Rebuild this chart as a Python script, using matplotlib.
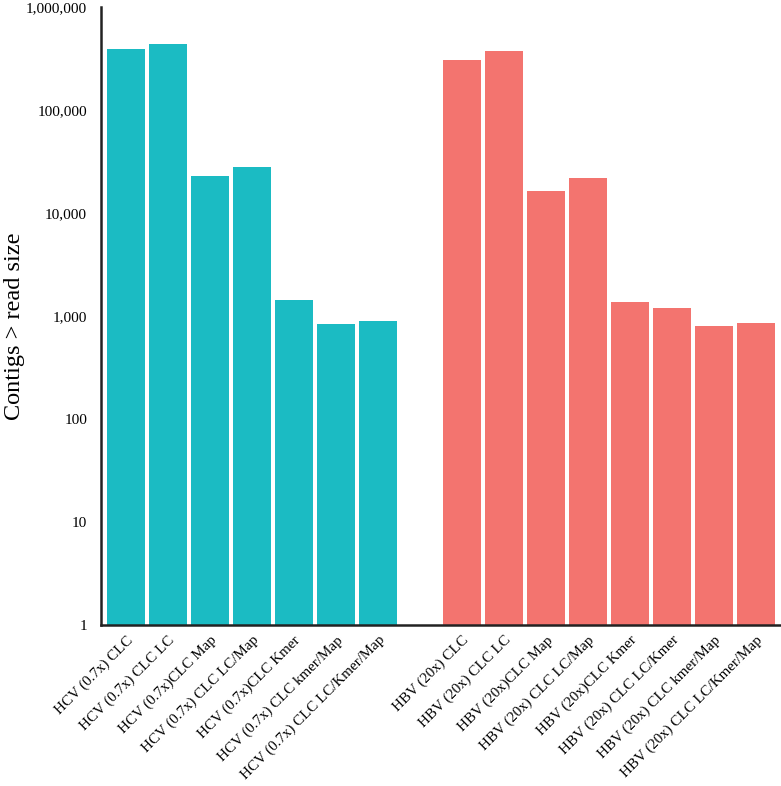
import matplotlib.pyplot as plt
import numpy as np
from matplotlib.ticker import FixedLocator, FuncFormatter

plt.rcParams['font.family'] = ['Liberation Serif', 'DejaVu Serif']

hcv_labels = ["HCV (0.7x) CLC", "HCV (0.7x) CLC LC", "HCV (0.7x)CLC Map",
              "HCV (0.7x) CLC LC/Map", "HCV (0.7x)CLC Kmer",
              "HCV (0.7x) CLC kmer/Map", "HCV (0.7x) CLC LC/Kmer/Map"]
hcv_values = [391000, 437000, 22900, 28000, 1430, 836, 893]

hbv_labels = ["HBV (20x) CLC", "HBV (20x) CLC LC", "HBV (20x)CLC Map",
              "HBV (20x) CLC LC/Map", "HBV (20x)CLC Kmer",
              "HBV (20x) CLC LC/Kmer", "HBV (20x) CLC kmer/Map",
              "HBV (20x) CLC LC/Kmer/Map"]
hbv_values = [306000, 374000, 16400, 21900, 1368, 1196, 800, 855]

hcv_color = '#1BBBC3'
hbv_color = '#F3746F'

fig = plt.figure(figsize=(7.81, 7.86), dpi=100)
ax = fig.add_axes([101 / 781, 1 - 625 / 786, 680 / 781, 618 / 786])

hcv_x = np.arange(len(hcv_labels))
hbv_x = np.arange(len(hbv_labels)) + len(hcv_labels) + 1

ax.bar(hcv_x, hcv_values, width=0.9, color=hcv_color)
ax.bar(hbv_x, hbv_values, width=0.9, color=hbv_color)

ax.set_yscale('log')
ax.set_ylim(1, 1e6)
ax.set_xlim(-0.593, 15.6)
ax.yaxis.set_major_locator(FixedLocator([1, 10, 100, 1000, 1e4, 1e5, 1e6]))
ax.yaxis.set_minor_locator(FixedLocator([]))
ax.yaxis.set_major_formatter(FuncFormatter(lambda v, p: f"{int(round(v)):,}"))
ax.tick_params(axis='y', length=0, pad=10, labelsize=11)

ax.set_xticks(list(hcv_x) + list(hbv_x))
ax.set_xticklabels(hcv_labels + hbv_labels, rotation=45, ha='right',
                   rotation_mode='anchor', fontsize=10.8)
ax.tick_params(axis='x', length=0, pad=6)

for s in ['top', 'right']:
    ax.spines[s].set_visible(False)
for s in ['left', 'bottom']:
    ax.spines[s].set_linewidth(1.8)
    ax.spines[s].set_color('#222222')

# y label placed by hand, left of the tick labels
fig.text(15 / 781, 1 - 326 / 786, "Contigs > read size", rotation=90,
         ha='center', va='center', fontsize=17.5)

fig.savefig('out.png', dpi=100)
